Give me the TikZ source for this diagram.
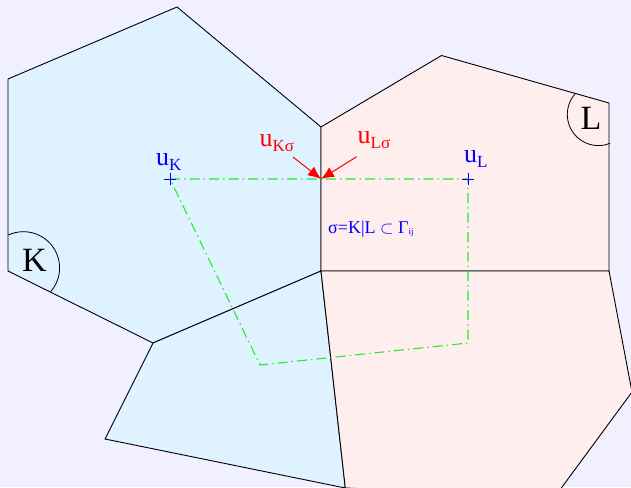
\documentclass[tikz,border=0pt]{standalone}
\usepackage{fontspec}
\setmainfont{Liberation Serif}
\usetikzlibrary{arrows.meta}
\definecolor{bgc}{RGB}{240,240,255}
\definecolor{kfill}{RGB}{222,242,255}
\definecolor{lfill}{RGB}{255,238,238}
\definecolor{gline}{RGB}{40,235,40}
\newcommand{\bigu}{\fontsize{26}{26}\selectfont u}
\newcommand{\mysub}[1]{\raisebox{-5pt}{\fontsize{17}{17}\selectfont #1}}
\begin{document}
\begin{tikzpicture}[x=1pt,y=-1pt,
  cell/.style={draw=black,line width=0.9pt,line join=miter},
  gdash/.style={draw=gline,line width=1.1pt,dash pattern=on 10pt off 4pt on 1.5pt off 4pt},
  lbl/.style={inner sep=0pt,anchor=base west},
  cellname/.style={inner sep=0pt,font=\fontsize{34}{34}\selectfont},
  redarrow/.style={draw=red,line width=1pt,-{Latex[length=13pt,width=11pt]}},
  crossmark/.style={draw=blue,line width=1pt}]
\useasboundingbox (0,0) rectangle (631,487);
\fill[bgc] (0,0) rectangle (631,487);
\begin{scope}
\clip (0,0) rectangle (631,487);
\coordinate (a1) at (8,79);
\coordinate (a2) at (177,7);
\coordinate (c) at (321,127);
\coordinate (m) at (321,271);
\coordinate (b1) at (153,343);
\coordinate (a6) at (8,271);
\coordinate (d1) at (105,439);
\coordinate (d2) at (345.3,488);
\coordinate (l1) at (441.5,55.5);
\coordinate (l2) at (609,103);
\coordinate (l3) at (609,271);
\coordinate (p1) at (632,392);
\coordinate (p2) at (554.7,497);
\path[cell,fill=kfill] (a1)--(a2)--(c)--(m)--(b1)--(a6)--cycle;
\path[cell,fill=kfill] (b1)--(m)--(d2)--(d1)--cycle;
\path[cell,fill=lfill] (c)--(l1)--(l2)--(l3)--(m)--cycle;
\path[cell,fill=lfill] (m)--(l3)--(p1)--(p2)--(d2)--cycle;
% angle marks
\draw[line width=0.8pt] (8.3,235) arc[start angle=114.7, end angle=-41.1, radius=36.2pt];
\draw[line width=0.8pt] (575,94) arc[start angle=138.8, end angle=291.9, radius=31.1pt];
\node[cellname] (K) at (34.5,260) {K};
\node[cellname] (L) at (591,118.5) {L};
% green dual path
\coordinate (uK) at (170,179);
\coordinate (s) at (321,179);
\coordinate (uL) at (468,179);
\coordinate (g1) at (468,343);
\coordinate (g2) at (260,365);
\draw[gdash] (uK) -- (s) -- (uL) -- (g1) -- (g2) -- cycle;
\draw[crossmark] (uK) +(-6,0) -- +(6,0) (uK) +(0,-6) -- +(0,6);
\draw[crossmark] (uL) +(-6,0) -- +(6,0) (uL) +(0,-6) -- +(0,6);
% labels
\node[lbl,text=blue] (tuK) at (156,165) {\bigu\mysub{K}};
\node[lbl,text=blue] (tuL) at (464,162.7) {\bigu\mysub{L}};
\node[lbl,text=red] (tuKs) at (259.5,146.7) {\bigu\mysub{Kσ}};
\node[lbl,text=red] (tuLs) at (357.5,143.3) {\bigu\mysub{Lσ}};
\coordinate (ka) at (293,157);
\coordinate (la) at (356.7,156.7);
\draw[redarrow] (ka) -- (s);
\draw[redarrow] (la) -- (s);
\node[lbl,text=blue] (sig) at (328,233) {\fontsize{18}{18}\selectfont σ=K|L $\subset$ Γ\raisebox{-1pt}{\fontsize{9}{9}\selectfont ij}};
\end{scope}
\end{tikzpicture}
\end{document}
